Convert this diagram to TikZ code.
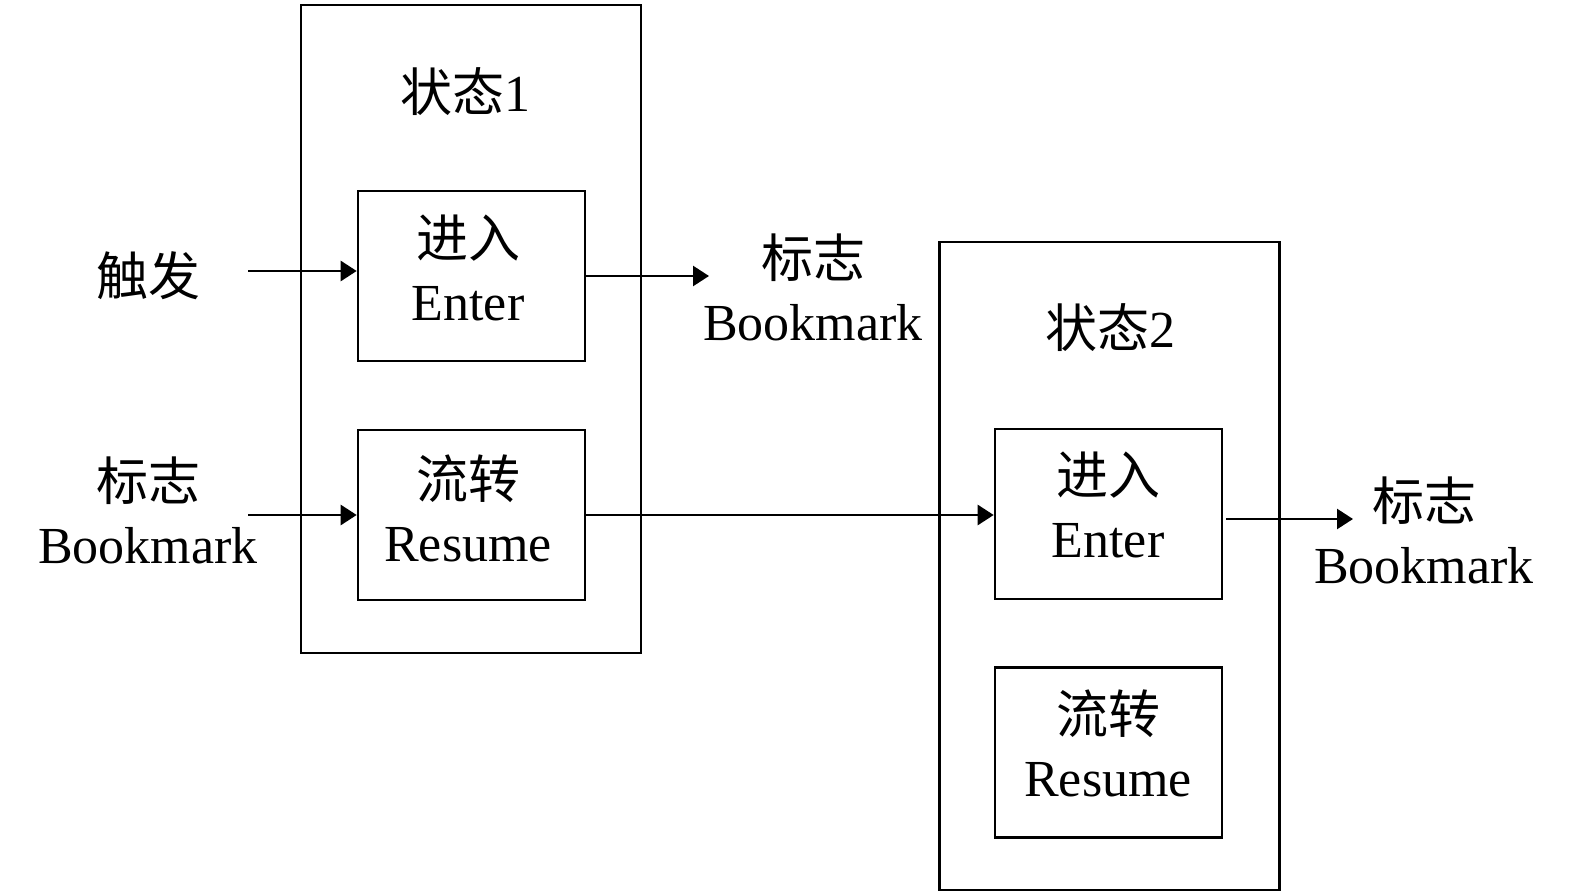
\documentclass[tikz,border=0pt]{standalone}
\usepackage{fontspec}
\setmainfont{Liberation Serif}
\newfontfamily\cjk{Noto Sans CJK SC}
\usetikzlibrary{arrows.meta}
\begin{document}
\begin{tikzpicture}[x=1pt,y=-1pt,
  every node/.style={font=\fontsize{52}{63}\selectfont, align=center, inner sep=0pt},
  outerbox/.style={draw, line width=2.6pt, minimum width=340pt, minimum height=648pt},
  innerbox/.style={draw, line width=2.6pt, minimum width=227pt, minimum height=170pt},
  arr/.style={line width=2.6pt, -{Triangle[length=16pt,width=20pt]}}]
\useasboundingbox (0,0) rectangle (1575,896);
% state 1
\node[outerbox] (s1) at (471,329) {};
\node (t1) at (465,92) {{\cjk 状态}1};
\node[innerbox] (e1) at (471.5,276) {};
\node[innerbox] (r1) at (471.5,515) {};
\node (e1t) at (468,268) {{\cjk 进入}\\Enter};
\node (r1t) at (468,508) {{\cjk 流转}\\Resume};
% state 2
\node[outerbox] (s2) at (1109.5,566) {};
\node (t2) at (1110,328) {{\cjk 状态}2};
\node[innerbox] (e2) at (1108.5,514) {};
\node[innerbox] (r2) at (1108.5,752.5) {};
\node (e2t) at (1108,505) {{\cjk 进入}\\Enter};
\node (r2t) at (1108,743) {{\cjk 流转}\\Resume};
% labels
\node (trig) at (148,276) {\cjk 触发};
\node (bm0) at (148,510) {{\cjk 标志}\\Bookmark};
\node (bm1) at (813,287) {{\cjk 标志}\\Bookmark};
\node (bm2) at (1424,530) {{\cjk 标志}\\Bookmark};
% connectors
\coordinate (a1) at (248,271);
\coordinate (a2) at (248,515);
\coordinate (a3) at (709,276);
\coordinate (a4s) at (1226,519);
\coordinate (a4) at (1353,519);
\draw[arr] (a1) -- (e1.west |- a1);
\draw[arr] (a2) -- (r1.west |- a2);
\draw[arr] (e1.east |- a3) -- (a3);
\draw[arr] (r1.east |- a2) -- (e2.west |- a2);
\draw[arr] (a4s) -- (a4);
\end{tikzpicture}
\end{document}
